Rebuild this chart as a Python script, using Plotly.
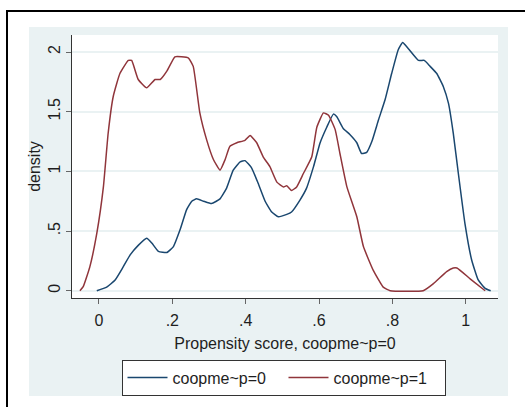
import plotly.graph_objects as go

# Data (kernel density estimates)
x_p0 = [-0.006, 0.021, 0.044, 0.066, 0.085, 0.107, 0.13, 0.144, 0.162, 0.185, 0.203, 0.221, 0.239,
        0.253, 0.266, 0.285, 0.307, 0.33, 0.348, 0.366, 0.385, 0.398, 0.416, 0.434, 0.453, 0.471,
        0.489, 0.512, 0.525, 0.548, 0.566, 0.585, 0.603, 0.621, 0.639, 0.648, 0.666, 0.684, 0.703,
        0.716, 0.730, 0.744, 0.762, 0.780, 0.798, 0.816, 0.828, 0.843, 0.871, 0.887, 0.903, 0.921,
        0.939, 0.953, 0.966, 0.98, 0.998, 1.016, 1.034, 1.053, 1.068]
y_p0 = [0.0, 0.03, 0.09, 0.20, 0.30, 0.38, 0.44, 0.40, 0.33, 0.32, 0.37, 0.51, 0.68,
        0.75, 0.77, 0.75, 0.73, 0.77, 0.86, 1.01, 1.08, 1.09, 1.03, 0.90, 0.75, 0.66,
        0.62, 0.64, 0.66, 0.76, 0.86, 1.04, 1.24, 1.37, 1.48, 1.46, 1.36, 1.31, 1.24,
        1.15, 1.16, 1.25, 1.43, 1.60, 1.82, 2.02, 2.08, 2.03, 1.93, 1.93, 1.88, 1.82,
        1.71, 1.57, 1.32, 0.98, 0.56, 0.26, 0.09, 0.02, 0.0]

x_p1 = [-0.052, -0.043, -0.025, -0.006, 0.012, 0.025, 0.039, 0.057, 0.080, 0.089, 0.107, 0.13,
        0.153, 0.167, 0.185, 0.207, 0.225, 0.244, 0.257, 0.275, 0.294, 0.312, 0.33, 0.344, 0.357,
        0.376, 0.398, 0.412, 0.43, 0.448, 0.466, 0.485, 0.503, 0.512, 0.525, 0.539, 0.557, 0.58,
        0.594, 0.612, 0.626, 0.644, 0.657, 0.676, 0.703, 0.721, 0.748, 0.775, 0.794, 0.884, 0.912,
        0.948, 0.966, 0.976, 1.012, 1.053]
y_p1 = [0.0, 0.034, 0.20, 0.48, 0.87, 1.32, 1.63, 1.82, 1.93, 1.93, 1.77, 1.70,
        1.77, 1.77, 1.84, 1.96, 1.96, 1.95, 1.88, 1.49, 1.26, 1.10, 1.01, 1.10, 1.21,
        1.24, 1.26, 1.30, 1.24, 1.12, 1.04, 0.91, 0.87, 0.88, 0.84, 0.87, 0.98, 1.12,
        1.37, 1.49, 1.47, 1.35, 1.15, 0.87, 0.62, 0.37, 0.17, 0.03, 0.0, 0.0, 0.06,
        0.16, 0.19, 0.19, 0.10, 0.0]

series_names = ["coopme~p=0", "coopme~p=1"]
x_ticks = [0, 0.2, 0.4, 0.6, 0.8, 1]
x_tick_labels = ["0", ".2", ".4", ".6", ".8", "1"]
y_ticks = [0, 0.5, 1, 1.5, 2]
y_tick_labels = ["0", ".5", "1", "1.5", "2"]

BLUE = "#1a476f"
RED = "#90353b"
BG = "#eaf2f3"
TXT = "#1e1e1e"
FONT = "Liberation Sans, Arial, sans-serif"

fig = go.Figure()
fig.add_trace(go.Scatter(x=x_p0, y=y_p0, mode="lines", name=series_names[0],
                         line=dict(color=BLUE, width=1.5, shape="spline", smoothing=0.4)))
fig.add_trace(go.Scatter(x=x_p1, y=y_p1, mode="lines", name=series_names[1],
                         line=dict(color=RED, width=1.5, shape="spline", smoothing=0.4)))

W, H = 525, 407
L, R, T, B = 72, 498, 35, 298
pw, ph = R - L, B - T

def xp(px):
    return (px - L) / pw

def yp(py):
    return (B - py) / ph

shapes = [
    # graph region (light bluish gray)
    dict(type="rect", xref="paper", yref="paper", x0=xp(29), x1=xp(508), y0=yp(396), y1=yp(27),
         fillcolor=BG, line=dict(width=0), layer="below"),
    # plot region (white)
    dict(type="rect", xref="paper", yref="paper", x0=0, x1=1, y0=0, y1=1,
         fillcolor="white", line=dict(width=0), layer="below"),
    # outer black frame
    dict(type="rect", xref="paper", yref="paper", x0=xp(7), x1=xp(540), y0=yp(420), y1=yp(11),
         fillcolor="rgba(0,0,0,0)", line=dict(color="black", width=2), layer="above"),
]

fig.update_layout(
    width=W, height=H,
    margin=dict(l=L, r=W - R, t=T, b=H - B),
    paper_bgcolor="white", plot_bgcolor="white",
    font=dict(family=FONT, size=16, color=TXT),
    shapes=shapes,
    showlegend=True,
    legend=dict(orientation="h", x=xp(283.5), xanchor="center", y=yp(377.5), yanchor="middle",
                bgcolor="white", bordercolor="#333333", borderwidth=1,
                font=dict(family=FONT, size=16, color=TXT),
                entrywidth=106, entrywidthmode="pixels", itemwidth=40),
    xaxis=dict(range=[-0.0736, 1.088], tickvals=x_ticks, ticktext=x_tick_labels,
               showgrid=False, zeroline=False, showline=True, linecolor="#333333", linewidth=1,
               ticks="outside", ticklen=5, tickcolor="#666666", ticklabelstandoff=3,
               title=dict(text="Propensity score, coopme~p=0", standoff=9,
                          font=dict(family=FONT, size=16, color=TXT))),
    yaxis=dict(range=[-0.061, 2.143], tickvals=y_ticks, ticktext=y_tick_labels, tickangle=-90,
               showgrid=True, gridcolor=BG, gridwidth=1.5, zeroline=False,
               showline=True, linecolor="#333333", linewidth=1,
               ticks="outside", ticklen=5, tickcolor="#666666",
               title=dict(text="density", standoff=0,
                          font=dict(family=FONT, size=16, color=TXT))),
)

fig.write_html("out.html")
